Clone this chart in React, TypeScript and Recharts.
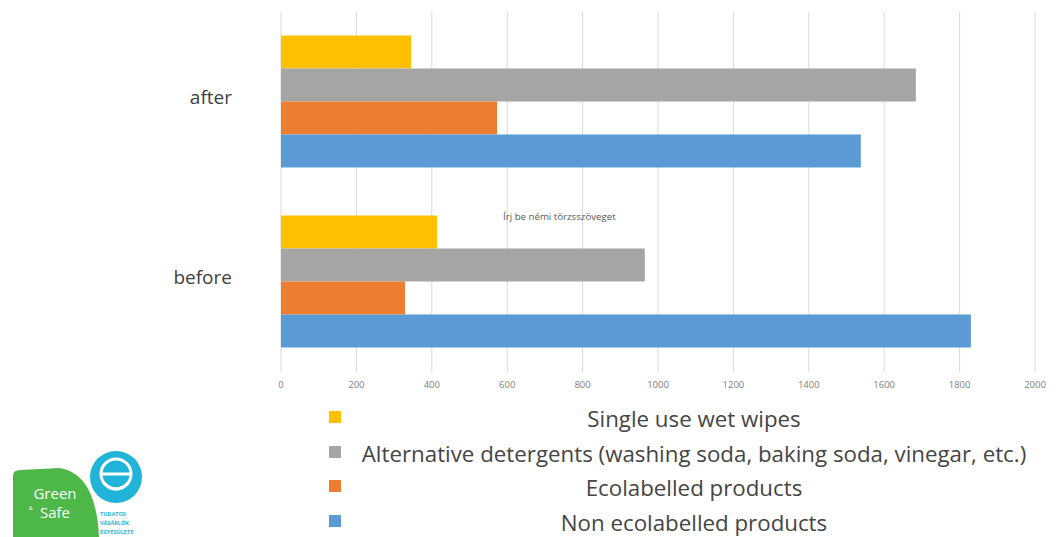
import React from 'react';
import { BarChart, Bar, XAxis, YAxis, CartesianGrid, Legend } from 'recharts';

const categories = ['after', 'before'];
const wetWipes = [345, 414];
const altDetergents = [1684, 965];
const ecolabelled = [573, 329];
const nonEcolabelled = [1538, 1830];
const xTicks = [0, 200, 400, 600, 800, 1000, 1200, 1400, 1600, 1800, 2000];

const seriesNames = [
  'Single use wet wipes',
  'Alternative detergents (washing soda, baking soda, vinegar, etc.)',
  'Ecolabelled products',
  'Non ecolabelled products',
];
const seriesColors = ['#FFC000', '#A5A5A5', '#ED7D31', '#5B9BD5'];

const data = categories.map((c, i) => ({
  name: c,
  s0: wetWipes[i],
  s1: altDetergents[i],
  s2: ecolabelled[i],
  s3: nonEcolabelled[i],
}));

const FONT = '"Open Sans", "Noto Sans", sans-serif';

const LegendContent = () => (
  <div style={{ position: 'relative', width: 1058, height: 135 }}>
    {seriesNames.map((name, i) => (
      <div key={name} style={{ position: 'absolute', top: i * 34.7, left: 0, width: 1058, height: 30 }}>
        <div style={{ position: 'absolute', left: 329, top: 10, width: 12, height: 12, background: seriesColors[i] }} />
        <span
          style={{
            position: 'absolute',
            left: 694,
            top: 6,
            transform: 'translateX(-50%)',
            whiteSpace: 'nowrap',
            fontFamily: FONT,
            fontSize: 22.3,
            color: '#454545',
            lineHeight: '24px',
          }}
        >
          {name}
        </span>
      </div>
    ))}
  </div>
);

const YTick = (props: any) => {
  const { x, y, payload } = props;
  return (
    <text x={x} y={y - 5} dy="0.355em" textAnchor="end" fontFamily={FONT} fontSize={19} fill="#404040">
      {payload.value}
    </text>
  );
};

const Logo = () => (
  <svg width={160} height={137} style={{ position: 'absolute', left: 0, top: 400 }} viewBox="0 400 160 137">
    <path d="M13,476 Q13,470 20,470 L60,468 Q96,474 99,537 L13,537 Z" fill="#4DB748" />
    <circle cx={116} cy={477} r={26} fill="#1FB4D8" />
    <circle cx={116} cy={474} r={15} fill="none" stroke="#ffffff" strokeWidth={3} />
    <line x1={101} y1={474} x2={131} y2={474} stroke="#ffffff" strokeWidth={3} />
    <path d="M103,482 Q116,496 129,482" fill="none" stroke="#ffffff" strokeWidth={3} />
    <text x={55} y={499} fill="#ffffff" fontFamily={FONT} fontSize={15} textAnchor="middle">Green</text>
    <text x={29} y={510} fill="#ffffff" fontFamily={FONT} fontSize={5}>&amp;</text>
    <text x={55} y={518} fill="#ffffff" fontFamily={FONT} fontSize={15} textAnchor="middle">Safe</text>
    <text x={100} y={516} fill="#1FB4D8" fontFamily={FONT} fontSize={5.5} fontWeight={700}>TUDATOS</text>
    <text x={100} y={525} fill="#1FB4D8" fontFamily={FONT} fontSize={5.5} fontWeight={700}>VÁSÁRLÓK</text>
    <text x={100} y={534} fill="#1FB4D8" fontFamily={FONT} fontSize={5.5} fontWeight={700}>EGYESÜLETE</text>
  </svg>
);

export default function App() {
  return (
    <div style={{ position: 'absolute', left: 0, top: 0, width: 1058, height: 537, background: '#ffffff', overflow: 'hidden' }}>
      <BarChart
        width={1058}
        height={537}
        data={data}
        layout="vertical"
        margin={{ top: 12, right: 23, left: 0, bottom: 137 }}
        barCategoryGap="13%"
        barGap={0}
      >
        <CartesianGrid horizontal={false} vertical={true} stroke="#D9D9D9" strokeWidth={1} />
        <XAxis
          type="number"
          domain={[0, 2000]}
          ticks={xTicks}
          tickLine={false}
          axisLine={false}
          height={28}
          tickMargin={3}
          tick={{ fontSize: 9.5, fill: '#808080', fontFamily: FONT }}
        />
        <YAxis
          type="category"
          dataKey="name"
          width={281}
          tickLine={false}
          axisLine={false}
          tickSize={0}
          tickMargin={49}
          tick={<YTick />}
        />
        <Legend
          layout="vertical"
          align="center"
          verticalAlign="middle"
          content={<LegendContent />}
          wrapperStyle={{ position: 'absolute', top: 401, left: 0, width: 1058, height: 135 }}
        />
        {seriesNames.map((n, i) => (
          <Bar key={n} dataKey={'s' + i} name={n} fill={seriesColors[i]} isAnimationActive={false} />
        ))}
      </BarChart>
      <span
        style={{
          position: 'absolute',
          left: 503,
          top: 210,
          fontFamily: FONT,
          fontSize: 9.7,
          lineHeight: '13px',
          color: '#595959',
          whiteSpace: 'nowrap',
        }}
      >
        Írj be némi törzsszöveget
      </span>
      <Logo />
    </div>
  );
}
